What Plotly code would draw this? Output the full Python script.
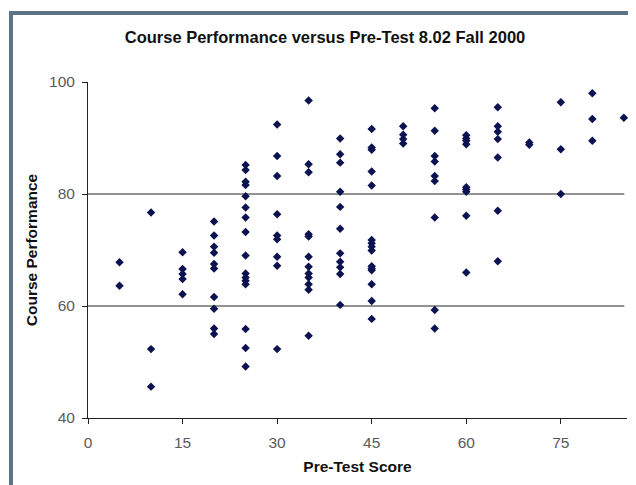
import plotly.graph_objects as go

# Data: (pre-test score, course performance)
pretest = (
    [5] * 2 + [10] * 3 + [15] * 5 + [20] * 10 + [25] * 16 + [30] * 9 +
    [35] * 12 + [40] * 11 + [45] * 15 + [50] * 4 + [55] * 9 + [60] * 9 +
    [65] * 7 + [70] * 2 + [75] * 3 + [80] * 3 + [85] * 1
)
performance = [
    67.8, 63.6,
    76.7, 52.3, 45.6,
    69.6, 66.6, 65.7, 64.8, 62.1,
    75.1, 72.6, 70.6, 69.5, 67.5, 66.7, 61.6, 59.5, 56.0, 55.0,
    85.2, 84.3, 82.2, 81.6, 79.6, 77.6, 75.8, 73.2, 69.0, 65.8, 65.1, 64.5, 63.9, 55.9, 52.5, 49.2,
    92.4, 86.8, 83.2, 76.4, 72.6, 71.9, 68.8, 67.2, 52.3,
    96.7, 85.3, 83.9, 72.8, 72.4, 68.8, 67.0, 65.8, 65.1, 63.9, 62.9, 54.7,
    89.9, 87.1, 85.6, 80.4, 77.7, 73.8, 69.4, 67.9, 66.9, 65.7, 60.2,
    91.6, 88.3, 87.9, 84.0, 81.5, 71.8, 71.2, 70.6, 69.9, 67.1, 66.7, 66.4, 63.9, 60.9, 57.7,
    92.1, 90.6, 89.8, 89.0,
    95.3, 91.3, 86.8, 85.8, 83.2, 82.3, 75.8, 59.3, 56.0,
    90.5, 89.9, 89.5, 88.9, 81.2, 80.8, 80.4, 76.1, 66.0,
    95.5, 92.1, 91.1, 89.8, 86.5, 77.0, 68.0,
    89.2, 88.8,
    96.4, 88.0, 80.0,
    98.0, 93.4, 89.5,
    93.6,
]

x_ticks = [0, 15, 30, 45, 60, 75]
y_ticks = [40, 60, 80, 100]
grid_values = [60, 80]

fig = go.Figure()
fig.add_trace(go.Scatter(
    x=pretest, y=performance, mode="markers",
    marker=dict(symbol="diamond", size=6.5, color="#0b1250"),
    hoverinfo="x+y", showlegend=False, cliponaxis=False,
))

shapes = []
for g in grid_values:
    shapes.append(dict(type="line", xref="x domain", yref="y", x0=0, x1=0.995,
                       y0=g, y1=g, line=dict(color="#262626", width=1), layer="below"))
# outer frame (dark slate border on top and left)
shapes.append(dict(type="rect", xref="paper", yref="paper",
                   x0=-0.1429, x1=1.05, y0=-0.3, y1=1.2054,
                   line=dict(color="#5b7383", width=4)))

font_family = "Liberation Sans, Arial, sans-serif"
tickfont = dict(family=font_family, size=15.5, color="#5a5a5a")

fig.update_layout(
    width=628, height=477,
    margin=dict(l=80, r=9, t=74, b=67, autoexpand=False),
    paper_bgcolor="white", plot_bgcolor="white",
    title=dict(text="<b>Course Performance versus Pre-Test 8.02 Fall 2000</b>",
               x=(325 - 88) / 539, xref="paper", xanchor="center",
               y=1 - 29 / 477, yanchor="middle",
               font=dict(family=font_family, size=16.5, color="#111111")),
    shapes=shapes,
    xaxis=dict(range=[0, 85.5], tickvals=x_ticks, showgrid=False, zeroline=False,
               showline=True, linecolor="#222222", linewidth=1,
               ticks="outside", ticklen=5, tickcolor="#222222",
               tickfont=tickfont, ticklabelstandoff=5, automargin=False,
               title=dict(text="<b>Pre-Test Score</b>", standoff=11,
                          font=dict(family=font_family, size=15.5, color="#111111"))),
    yaxis=dict(range=[40, 100], tickvals=y_ticks, showgrid=False, zeroline=False,
               showline=True, linecolor="#222222", linewidth=1,
               ticks="outside", ticklen=5, tickcolor="#222222",
               tickfont=tickfont, ticklabelstandoff=4, automargin=False,
               title=dict(text="<b>Course Performance</b>", standoff=7,
                          font=dict(family=font_family, size=15.5, color="#111111"))),
)

fig.write_html("out.html")
